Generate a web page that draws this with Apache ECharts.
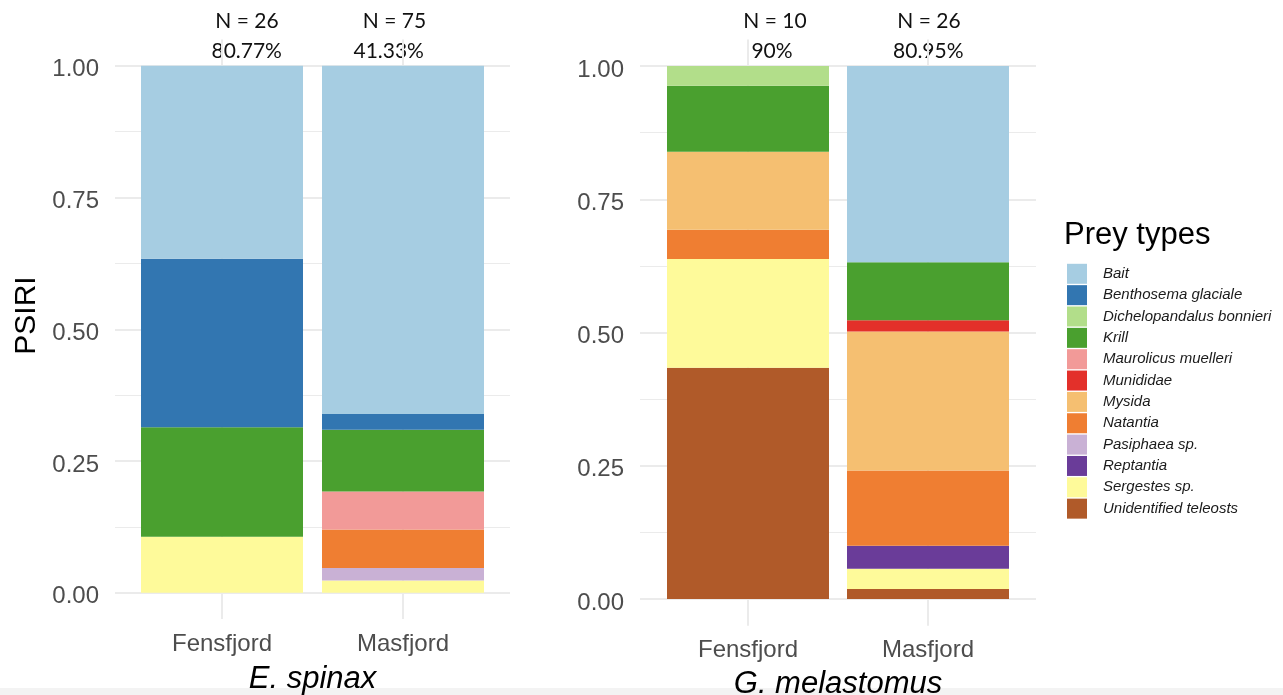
<!DOCTYPE html>
<html>
<head>
<meta charset="utf-8">
<script src="https://cdn.jsdelivr.net/npm/echarts@6/dist/echarts.min.js"></script>
<style>
  html, body { margin: 0; padding: 0; background: #fff; }
  #chart { width: 1283px; height: 695px; }
</style>
</head>
<body>
<div id="chart"></div>
<script>
// Prey categories, legend order (first one is stacked on top)
const preyTypes = [
  'Bait', 'Benthosema glaciale', 'Dichelopandalus bonnieri', 'Krill',
  'Maurolicus muelleri', 'Munididae', 'Mysida', 'Natantia',
  'Pasiphaea sp.', 'Reptantia', 'Sergestes sp.', 'Unidentified teleosts'
];
const preyColors = [
  '#a6cde2', '#3276b1', '#b2de8a', '#4aa02f', '#f29a98', '#e3302a',
  '#f5bf71', '#ef7e32', '#c9b1d5', '#6a3c99', '#fefa9a', '#b05a29'
];
const sites = ['Fensfjord', 'Masfjord'];

// PSIRI per prey type (same order as preyTypes)
const spinaxFensfjord = [0.366, 0.320, 0, 0.208, 0, 0, 0, 0, 0, 0, 0.106, 0];
const spinaxMasfjord  = [0.661, 0.030, 0, 0.117, 0.072, 0, 0, 0.073, 0.024, 0, 0.023, 0];
const melastomusFensfjord = [0, 0, 0.037, 0.124, 0, 0, 0.146, 0.055, 0, 0, 0.204, 0.434];
const melastomusMasfjord  = [0.368, 0, 0, 0.109, 0, 0.021, 0.261, 0.141, 0, 0.043, 0.038, 0.019];

// Sample sizes and occurrence percentages above each bar
const spinaxN = [26, 75];
const spinaxPct = [80.77, 41.33];
const melastomusN = [10, 26];
const melastomusPct = [90, 80.95];

const speciesNames = ['E. spinax', 'G. melastomus'];
const yTicks = [0, 0.25, 0.5, 0.75, 1];

// ---- layout ----
const FONT = 'Liberation Sans';
const GRID = '#ebebeb';
const panels = [
  { // E. spinax
    bars: { left: 222, top: 39.5, width: 181, height: 579.5 },
    frame: { left: 115, top: 65.84, width: 395, height: 526.86 },
    fens: spinaxFensfjord, mas: spinaxMasfjord,
    n: spinaxN, pct: spinaxPct,
    nX: [247, 394.5], pctX: [246.7, 388.7],
    titleX: 312.5, titleY: 679.5
  },
  { // G. melastomus
    bars: { left: 748, top: 39.4, width: 180, height: 586.3 },
    frame: { left: 640, top: 66.05, width: 396, height: 533 },
    fens: melastomusFensfjord, mas: melastomusMasfjord,
    n: melastomusN, pct: melastomusPct,
    nX: [775, 929], pctX: [772, 928.3],
    titleX: 838, titleY: 684.5
  }
];
const BAR_WIDTH = 162;

const grids = [], xAxes = [], yAxes = [], series = [], graphics = [];

panels.forEach((p, i) => {
  const gBars = grids.length;
  grids.push(Object.assign({}, p.bars));
  const gFrame = grids.length;
  grids.push(Object.assign({}, p.frame));

  // bar grid: sites sit on the grid edges, y padded by 5% each side
  xAxes.push({
    gridIndex: gBars, type: 'category', data: sites, boundaryGap: false,
    axisLine: { show: false }, axisTick: { show: false },
    axisLabel: { fontFamily: FONT, fontSize: 24, color: '#4d4d4d', margin: 13 },
    splitLine: { show: true, lineStyle: { color: GRID, width: 2 } }
  });
  yAxes.push({
    gridIndex: gBars, type: 'value', min: -0.05, max: 1.05, show: false,
    splitLine: { show: false }
  });

  // frame grid: PSIRI scale with major and minor gridlines
  xAxes.push({ gridIndex: gFrame, type: 'value', min: 0, max: 1, show: false, splitLine: { show: false } });
  yAxes.push({
    gridIndex: gFrame, type: 'value', min: yTicks[0], max: yTicks[yTicks.length - 1],
    interval: yTicks[1] - yTicks[0],
    axisLine: { show: false }, axisTick: { show: false },
    axisLabel: {
      fontFamily: FONT, fontSize: 24, color: '#4d4d4d', margin: 16,
      verticalAlign: 'top', lineHeight: 8,
      formatter: v => v.toFixed(2)
    },
    splitLine: { show: true, lineStyle: { color: GRID, width: 2 } },
    minorTick: { show: false, splitNumber: 2 },
    minorSplitLine: { show: true, lineStyle: { color: GRID, width: 1 } }
  });

  // stacked bars, last prey type at the bottom
  for (let k = preyTypes.length - 1; k >= 0; k--) {
    series.push({
      type: 'bar', name: preyTypes[k],
      xAxisIndex: gBars, yAxisIndex: gBars,
      stack: 'panel' + i, barWidth: BAR_WIDTH, clip: false,
      itemStyle: { color: preyColors[k] },
      emphasis: { disabled: true },
      data: [p.fens[k], p.mas[k]]
    });
  }

  // N and percentage annotations
  sites.forEach((s, j) => {
    graphics.push({
      type: 'text', x: p.nX[j], y: 21.5,
      style: { text: 'N = ' + p.n[j], fontFamily: 'Lato', fontSize: 21, fill: '#111',
               align: 'center', verticalAlign: 'middle' }
    });
    graphics.push({
      type: 'text', x: p.pctX[j], y: 51.5,
      style: { text: p.pct[j] + '%', fontFamily: 'Lato', fontSize: 21, fill: '#111',
               align: 'center', verticalAlign: 'middle' }
    });
  });

  // species title under each panel
  graphics.push({
    type: 'text', x: p.titleX, y: p.titleY,
    style: { text: speciesNames[i], fontFamily: FONT, fontSize: 31, fontStyle: 'italic',
             fill: '#000', align: 'center', verticalAlign: 'middle' }
  });
});

// y-axis title
graphics.push({
  type: 'text', x: 27, y: 315.5, rotation: Math.PI / 2,
  style: { text: 'PSIRI', fontFamily: FONT, fontSize: 30, fill: '#000',
           align: 'center', verticalAlign: 'middle' }
});
// legend title
graphics.push({
  type: 'text', x: 1064, y: 235,
  style: { text: 'Prey types', fontFamily: FONT, fontSize: 31, fill: '#000',
           align: 'left', verticalAlign: 'middle' }
});
// faint strip along the bottom edge
graphics.push({
  type: 'rect', z: -10, shape: { x: 0, y: 688, width: 1283, height: 7 },
  style: { fill: '#f3f3f3' }
});

const chart = echarts.init(document.getElementById('chart'), null, { renderer: 'canvas' });
chart.setOption({
  animation: false,
  backgroundColor: '#ffffff',
  grid: grids,
  xAxis: xAxes,
  yAxis: yAxes,
  legend: {
    data: preyTypes,
    orient: 'vertical',
    left: 1067, top: 263.8, padding: 0,
    icon: 'rect', itemWidth: 20, itemHeight: 20, itemGap: 1.35,
    selectedMode: false,
    textStyle: { fontFamily: FONT, fontSize: 15, fontStyle: 'italic', color: '#1a1a1a',
                 padding: [0, 0, 0, 11] }
  },
  series: series,
  graphic: graphics
});
</script>
</body>
</html>
